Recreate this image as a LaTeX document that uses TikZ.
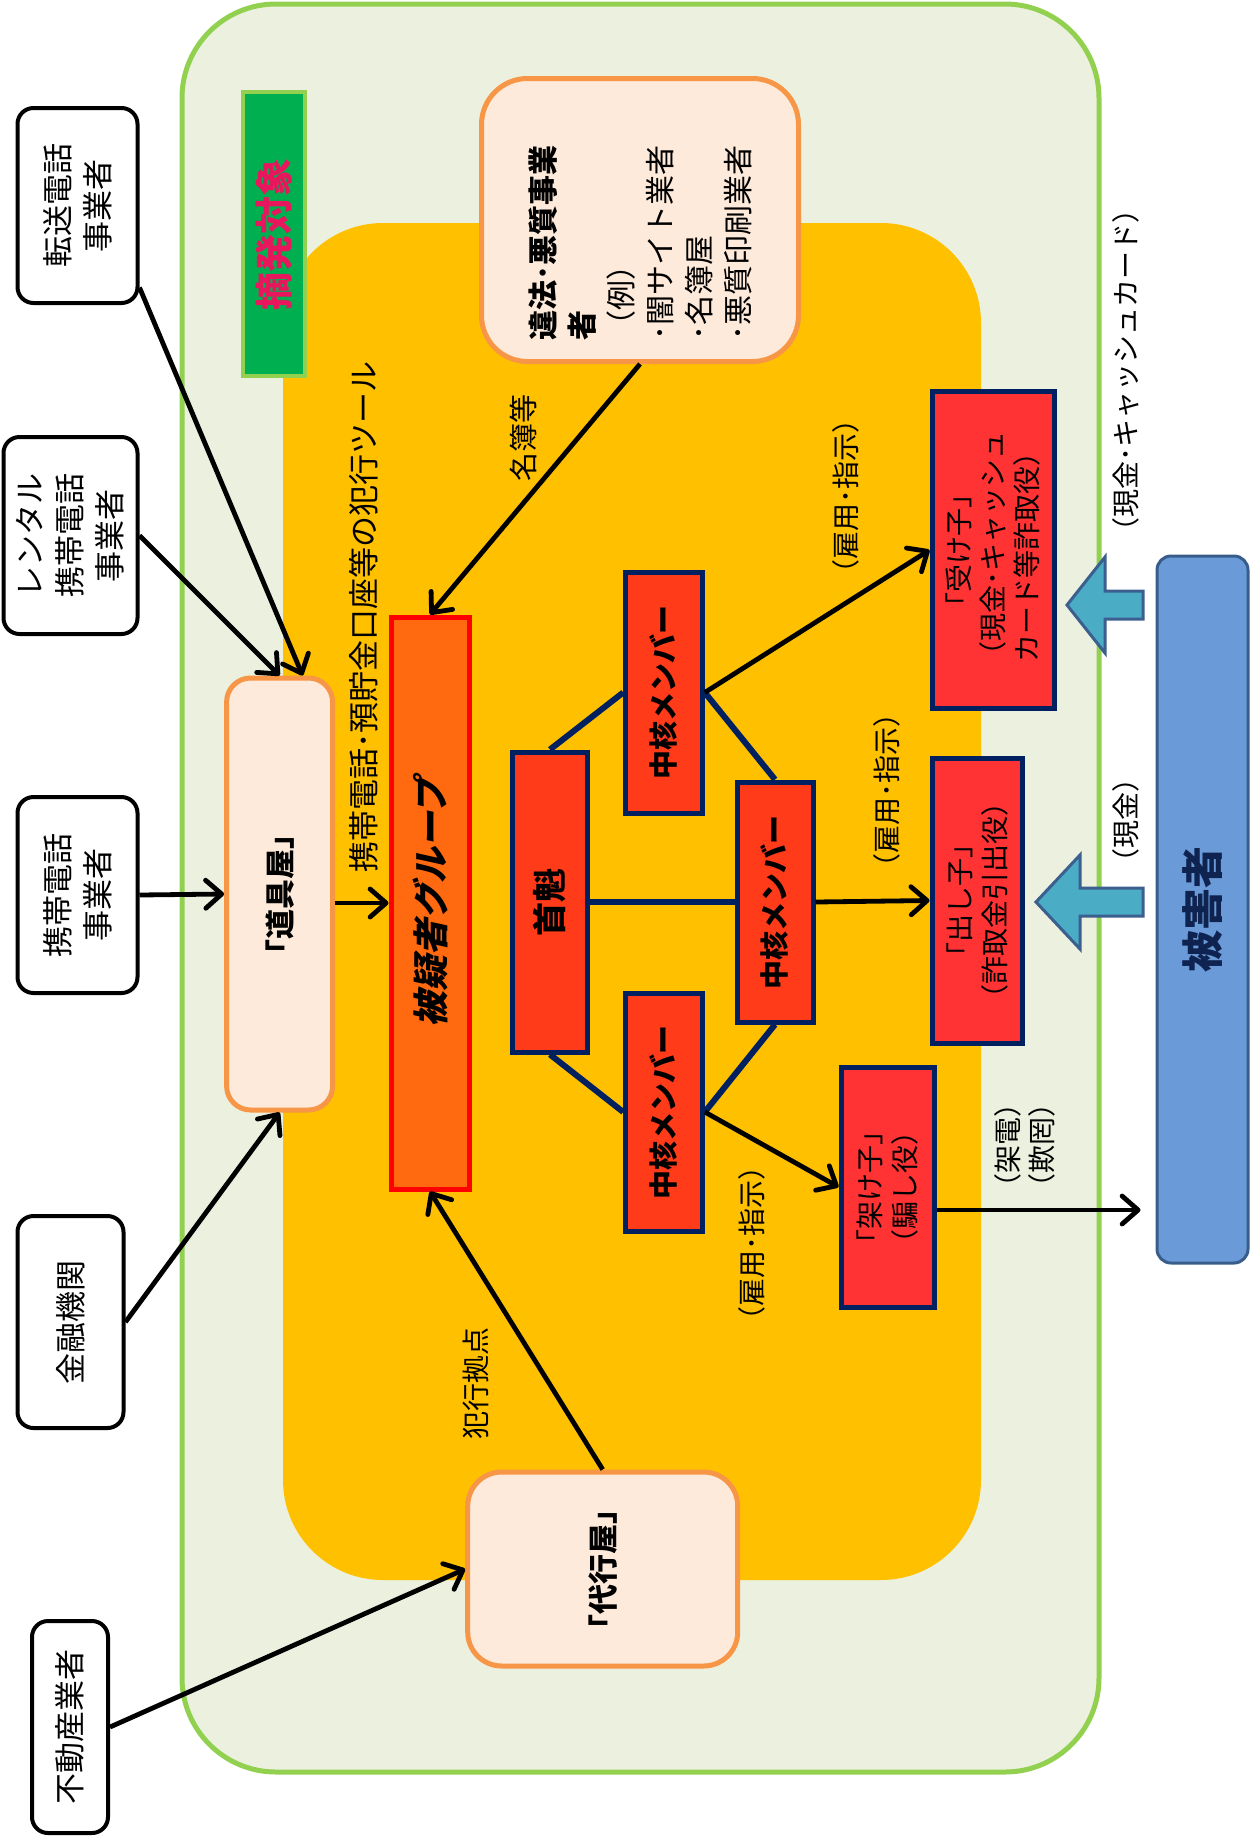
\documentclass[tikz,border=0pt]{standalone}
\usepackage{fontspec}
\setmainfont{Noto Sans CJK JP}
\newfontfamily\slantfont{Noto Sans CJK JP}[FakeSlant=0.22]
\usetikzlibrary{arrows.meta,calc}
\definecolor{lightgreen}{HTML}{EBF1DE}
\definecolor{greenline}{HTML}{92D050}
\definecolor{orangefill}{HTML}{FFC000}
\definecolor{peach}{HTML}{FDEADA}
\definecolor{boxorange}{HTML}{F79646}
\definecolor{higfill}{HTML}{FF6A10}
\definecolor{redfill}{HTML}{FF3B1A}
\definecolor{recfill}{HTML}{FF3333}
\definecolor{navy}{HTML}{002060}
\definecolor{bluefill}{HTML}{6A9BD8}
\definecolor{blueline}{HTML}{385D8A}
\definecolor{arrfill}{HTML}{4BACC6}
\definecolor{arrline}{HTML}{3B5F8E}
\definecolor{tekgreen}{HTML}{00B050}
\definecolor{tekred}{HTML}{E8175D}
\definecolor{victimtext}{HTML}{0F2350}
\newcommand{\fsz}[2]{\fontsize{#1}{#2}\selectfont}
\begin{document}
\begin{tikzpicture}[x=0.5pt,y=-0.5pt,
  every node/.style={inner sep=0pt},
  wbox/.style={draw=black, line width=2pt, fill=white, rounded corners=8pt, rotate=90, align=center, font=\fsz{15.5pt}{20pt}},
  pbox/.style={draw=boxorange, line width=2.5pt, fill=peach, rotate=90},
  rbox/.style={draw=navy, line width=2.5pt, fill=redfill, rotate=90, align=center},
  lbl/.style={rotate=90, align=center},
  navyln/.style={draw=navy, line width=3pt},
  arr/.style={draw=black, line width=2.4pt, -{Straight Barb[length=8pt,width=14pt,round]}},
  barrow/.style={draw=arrline, line width=1.5pt, fill=arrfill, line join=miter}
]
\useasboundingbox (0,0) rectangle (1256,1843);
% backgrounds
\draw[draw=greenline, line width=2.5pt, fill=lightgreen, rounded corners=47pt] (182,4) rectangle (1099,1772);
\fill[orangefill, rounded corners=50pt] (283,223) rectangle (981,1580);

% left boxes
\node[wbox, minimum width=97.5pt, minimum height=60pt] (ten) at (77.5,205.5) {転送電話\\事業者};
\node[wbox, minimum width=98.5pt, minimum height=67pt] (rent) at (70.5,535.5) {レンタル\\携帯電話\\事業者};
\node[wbox, minimum width=98pt, minimum height=60pt] (keitai) at (77.5,895) {携帯電話\\事業者};
\node[wbox, minimum width=106pt, minimum height=53pt] (kin) at (70.5,1322) {金融機関};
\node[wbox, minimum width=106pt, minimum height=38pt] (fudo) at (70,1727) {不動産業者};

% tekihatsu label
\node[draw=greenline, line width=2pt, fill=tekgreen, rotate=90, minimum width=142pt, minimum height=31pt, font=\bfseries\fsz{19pt}{22pt}, text=tekred] (tek) at (274,234) {摘発対象};

% peach boxes
\node[pbox, rounded corners=12pt, minimum width=216pt, minimum height=53pt, font=\bfseries\fsz{15pt}{18pt}] (dogu) at (279.6,894) {「道具屋」};
\node[pbox, rounded corners=23pt, minimum width=141.5pt, minimum height=158.5pt, text width=120pt, align=left, font=\fsz{15pt}{19.5pt}] (ihou) at (640,220) {\textbf{違法･悪質事業}\\\textbf{者}\\（例）\\･闇サイト業者\\･名簿屋\\･悪質印刷業者};
\node[pbox, rounded corners=17pt, minimum width=97pt, minimum height=135pt, font=\bfseries\fsz{15pt}{18pt}] (daiko) at (602.7,1569) {「代行屋」};

% suspect group
\node[draw=red, line width=2.5pt, fill=higfill, rotate=90, minimum width=286pt, minimum height=39pt, font=\slantfont\bfseries\fsz{18pt}{22pt}] (hig) at (430,903) {被疑者グループ};

% organisation
\node[rbox, minimum width=150pt, minimum height=37.7pt, font=\bfseries\fsz{17pt}{20pt}] (shu) at (550,902) {首魁};
\node[rbox, minimum width=120.5pt, minimum height=38.3pt, font=\bfseries\fsz{14.5pt}{18pt}] (c1) at (664,692.5) {中核メンバー};
\node[rbox, minimum width=120pt, minimum height=38pt, font=\bfseries\fsz{14.5pt}{18pt}] (c2) at (775,902) {中核メンバー};
\node[rbox, minimum width=119pt, minimum height=38.3pt, font=\bfseries\fsz{14.5pt}{18pt}] (c3) at (664,1112) {中核メンバー};
\node[rbox, fill=recfill, minimum width=158.7pt, minimum height=61pt, font=\fsz{14pt}{17pt}] (uke) at (993,550) {「受け子」\\（現金･キャッシュ\\カード等詐取役）};
\node[rbox, fill=recfill, minimum width=142.5pt, minimum height=45pt, font=\fsz{14pt}{17.5pt}] (dashi) at (977,900.5) {「出し子」\\（詐取金引出役）};
\node[rbox, fill=recfill, minimum width=120pt, minimum height=46.5pt, font=\fsz{14pt}{17.5pt}] (kake) at (887.5,1187) {「架け子」\\（騙し役）};

% victim
\node[draw=blueline, line width=1.5pt, fill=bluefill, rounded corners=7pt, rotate=90, minimum width=353.5pt, minimum height=45.5pt, font=\bfseries\fsz{21pt}{24pt}, text=victimtext] (higai) at (1202.5,909.5) {被害者};

% labels
\node[lbl, font=\fsz{15.5pt}{18pt}] (l1) at (364,617) {携帯電話･預貯金口座等の犯行ツール};
\node[lbl, font=\fsz{14.5pt}{18pt}] (l2) at (523,438) {名簿等};
\node[lbl, font=\fsz{14pt}{18pt}] (l3) at (476,1383) {犯行拠点};
\node[lbl, font=\fsz{14pt}{16pt}] (l4) at (846,496) {（雇用･指示）};
\node[lbl, font=\fsz{14pt}{16pt}] (l5) at (887,790) {（雇用･指示）};
\node[lbl, font=\fsz{14pt}{16pt}] (l6) at (752,1243) {（雇用･指示）};
\node[lbl, font=\fsz{14pt}{17pt}] (l7) at (1025,1145) {（架電）\\（欺罔）};
\node[lbl, font=\fsz{14pt}{16pt}] (l8) at (1126,820) {（現金）};
\node[lbl, font=\fsz{14pt}{16pt}] (l9) at (1126,370) {（現金･キャッシュカード）};

% navy links
\draw[navyln] (shu.east) -- (c1.north);
\draw[navyln] (shu.south) -- (c2.north);
\draw[navyln] (shu.west) -- (c3.north);
\draw[navyln] (c1.south) -- (c2.east);
\draw[navyln] (c3.south) -- (c2.west);

% black arrows
\draw[arr] (c1.south) -- (uke.north);
\draw[arr] (c2.south) -- (dashi.north);
\draw[arr] (c3.south) -- (kake.north);
\coordinate (kk) at ($(kake.south)+(0,23)$);
\draw[arr, shorten >=7.5pt] (kk) -- (kk -| higai.north);

\coordinate (tenout) at ($(ten.south)+(0,82)$);
\coordinate (dogutop) at ($(dogu.east)+(23,0)$);
\draw[arr] (tenout) -- (dogutop);
\draw[arr] (rent.south) -- (dogu.east);
\draw[arr] (keitai.south) -- (dogu.north);
\draw[arr] (kin.south) -- (dogu.west);
\draw[arr] (fudo.south) -- (daiko.north);
\draw[arr] (dogu.south |- hig.north) -- (hig.north);
\draw[arr] (ihou.west) -- (hig.east);
\draw[arr] (daiko.east) -- (hig.west);

% block arrows
\draw[barrow] (1067,605) -- (1105,557) -- (1105,591) -- (1143,591) -- (1143,619) -- (1105,619) -- (1105,653) -- cycle;
\draw[barrow] (1036,902) -- (1080,855) -- (1080,888) -- (1143,888) -- (1143,916) -- (1080,916) -- (1080,949) -- cycle;
\end{tikzpicture}
\end{document}
